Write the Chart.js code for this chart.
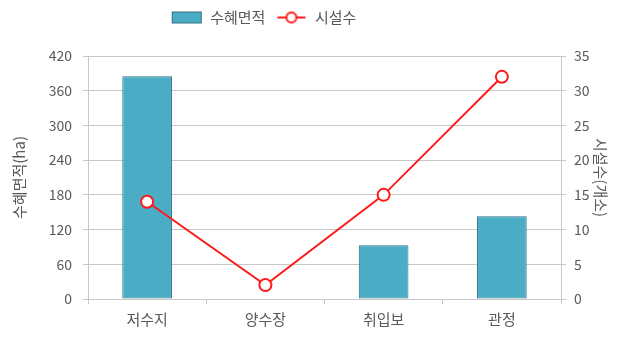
<!DOCTYPE html>
<html>
<head>
<meta charset="utf-8">
<script src="https://cdn.jsdelivr.net/npm/chart.js@4"></script>
<style>
    html, body { margin: 0; padding: 0; background: #fff; }
    #wrap { width: 627px; height: 340px; }
</style>
</head>
<body>
<div id="wrap"><canvas id="facilityChart"></canvas></div>
<script>
// 데이터
const categories = ['저수지', '양수장', '취입보', '관정'];
const areaValues = [385, 0, 93, 143];     // 수혜면적(ha)
const countValues = [14, 2, 15, 32];      // 시설수(개소)

const fontFamily = "'Noto Sans CJK KR', 'Noto Sans', sans-serif";
const textColor = '#595959';
const gridColor = '#c8c8c8';
const barColor = '#4bacc6';
const barBorder = '#2f6f82';
const lineColor = '#ff1a1a';

// 범례용 아이콘
function makeSwatch(kind) {
    const c = document.createElement('canvas');
    c.width = 32; c.height = 14;
    const g = c.getContext('2d');
    if (kind === 'bar') {
        g.fillStyle = barColor;
        g.fillRect(1, 1, 30, 12);
        g.strokeStyle = barBorder;
        g.lineWidth = 1;
        g.strokeRect(1.5, 1.5, 29, 11);
    } else {
        g.strokeStyle = lineColor;
        g.lineWidth = 2;
        g.beginPath(); g.moveTo(2, 7); g.lineTo(30, 7); g.stroke();
        g.fillStyle = '#fff';
        g.beginPath(); g.arc(16, 7, 5, 0, Math.PI * 2); g.fill(); g.stroke();
    }
    return c;
}
const swatches = [makeSwatch('bar'), makeSwatch('line')];

// 범례 높이 고정 + 위치 보정
const legendTweak = {
    id: 'legendTweak',
    beforeInit(chart) {
        const fit = chart.legend.fit;
        chart.legend.fit = function () {
            fit.call(this);
            this.height = 56;
        };
    },
    afterLayout(chart) {
        chart.legend.left -= 50;
        chart.legend.right -= 50;
    }
};

const ctx = document.getElementById('facilityChart').getContext('2d');
new Chart(ctx, {
    data: {
        labels: categories,
        datasets: [{
            type: 'bar',
            label: '수혜면적',
            data: areaValues,
            backgroundColor: barColor,
            borderColor: barBorder,
            borderWidth: 1,
            borderSkipped: false,
            yAxisID: 'y',
            order: 1,
            categoryPercentage: 1,
            barPercentage: 0.42
        }, {
            type: 'line',
            label: '시설수',
            data: countValues,
            borderColor: lineColor,
            borderWidth: 2,
            pointRadius: 6,
            pointBorderWidth: 2,
            pointBackgroundColor: '#fff',
            pointBorderColor: lineColor,
            tension: 0,
            yAxisID: 'y1',
            order: 0
        }]
    },
    options: {
        responsive: true,
        maintainAspectRatio: false,
        animation: false,
        layout: { padding: 0 },
        plugins: {
            legend: {
                position: 'top',
                labels: {
                    color: textColor,
                    font: { family: fontFamily, size: 15 },
                    usePointStyle: true,
                    pointStyleWidth: 32,
                    padding: 10,
                    sort: (a, b) => a.datasetIndex - b.datasetIndex,
                    generateLabels(chart) {
                        const items = Chart.defaults.plugins.legend.labels.generateLabels(chart);
                        items.forEach(it => { it.pointStyle = swatches[it.datasetIndex]; });
                        return items;
                    }
                }
            },
            tooltip: { enabled: false }
        },
        scales: {
            x: {
                offset: true,
                grid: {
                    offset: true,
                    drawOnChartArea: false,
                    color: gridColor,
                    tickLength: 5
                },
                border: { color: gridColor },
                ticks: {
                    color: textColor,
                    font: { family: fontFamily, size: 15 },
                    padding: 6
                },
                afterFit(scale) { scale.height = 41; }
            },
            y: {
                position: 'left',
                min: 0,
                max: 420,
                grid: { color: gridColor, tickLength: 5 },
                border: { color: gridColor },
                ticks: {
                    stepSize: 60,
                    color: textColor,
                    font: { family: fontFamily, size: 14 },
                    padding: 11
                },
                title: {
                    display: true,
                    text: '수혜면적(ha)',
                    color: textColor,
                    font: { family: fontFamily, size: 15 },
                    padding: { top: 10, bottom: 0 }
                },
                afterFit(scale) { scale.width = 88; }
            },
            y1: {
                position: 'right',
                min: 0,
                max: 35,
                grid: { drawOnChartArea: false, color: gridColor, tickLength: 5 },
                border: { color: gridColor },
                ticks: {
                    stepSize: 5,
                    color: textColor,
                    font: { family: fontFamily, size: 14 },
                    padding: 8
                },
                title: {
                    display: true,
                    text: '시설수(개소)',
                    color: textColor,
                    font: { family: fontFamily, size: 15 },
                    padding: { top: 17, bottom: 0 }
                },
                afterFit(scale) { scale.width = 66; }
            }
        }
    },
    plugins: [legendTweak]
});
</script>
</body>
</html>
